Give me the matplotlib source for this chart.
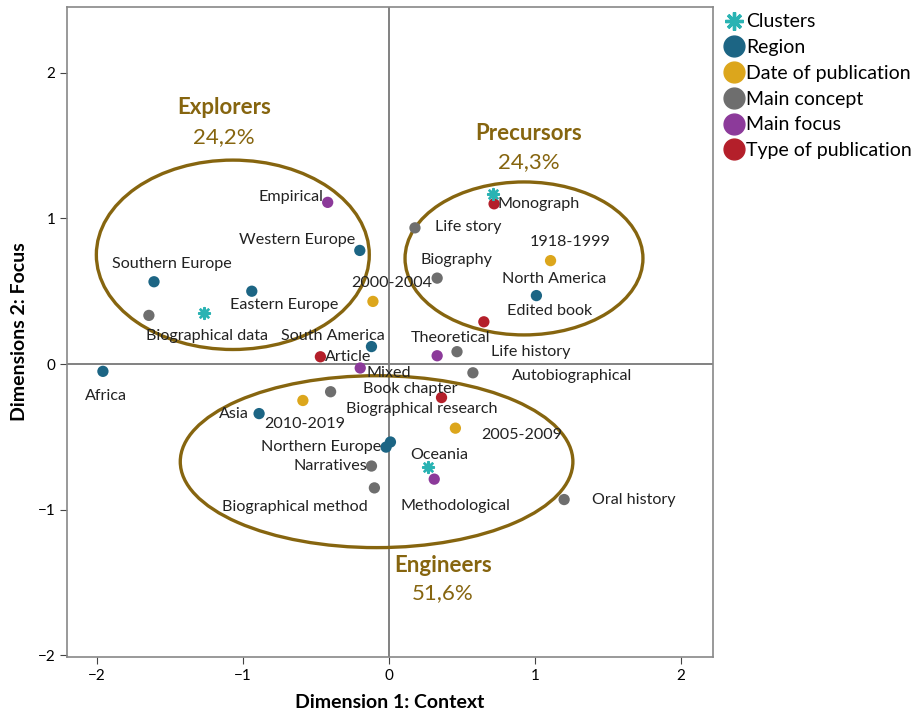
import matplotlib
matplotlib.use("Agg")
import matplotlib.pyplot as plt
from matplotlib.patches import Ellipse
from matplotlib.lines import Line2D

plt.rcParams['font.family'] = ['Lato', 'DejaVu Sans']

# --- data ---
region_names = ["Southern Europe", "Eastern Europe", "Western Europe", "South America",
                "Africa", "Asia", "Northern Europe", "Oceania", "North America"]
region_x = [-1.61, -0.94, -0.20, -0.12, -1.96, -0.89, -0.02, 0.01, 1.01]
region_y = [0.565, 0.50, 0.78, 0.12, -0.05, -0.34, -0.57, -0.535, 0.47]

date_names = ["2000-2004", "1918-1999", "2010-2019", "2005-2009"]
date_x = [-0.11, 1.107, -0.59, 0.455]
date_y = [0.43, 0.71, -0.25, -0.44]

concept_names = ["Biographical data", "Life story", "Biography", "Life history",
                 "Autobiographical", "Biographical research", "Narratives",
                 "Biographical method", "Oral history"]
concept_x = [-1.645, 0.178, 0.33, 0.466, 0.575, -0.40, -0.12, -0.10, 1.20]
concept_y = [0.334, 0.935, 0.59, 0.085, -0.06, -0.19, -0.70, -0.85, -0.93]

focus_names = ["Empirical", "Theoretical", "Mixed", "Methodological"]
focus_x = [-0.42, 0.33, -0.197, 0.31]
focus_y = [1.11, 0.057, -0.027, -0.79]

type_names = ["Article", "Monograph", "Edited book", "Book chapter"]
type_x = [-0.47, 0.72, 0.65, 0.36]
type_y = [0.05, 1.10, 0.29, -0.23]

cluster_names = ["Explorers", "Precursors", "Engineers"]
cluster_pct = ["24,2%", "24,3%", "51,6%"]
cluster_x = [-1.27, 0.71, 0.27]
cluster_y = [0.35, 1.17, -0.71]

# label offsets in pixels (dx, dy, ha)
label_pos = {
    "Empirical": (-4, 5, "right"), "Western Europe": (-5, 10, "right"),
    "Southern Europe": (18, 18, "center"), "Eastern Europe": (32, -14, "center"),
    "Biographical data": (58, -21, "center"), "2000-2004": (19, 18, "center"),
    "South America": (-39, 11, "center"), "Article": (5, 0, "left"),
    "Africa": (3, -25, "center"), "Mixed": (6, -5, "left"),
    "Book chapter": (-31, 9, "center"), "Biographical research": (91, -17, "center"),
    "Asia": (-10, 0, "right"), "2010-2019": (2, -24, "center"),
    "2005-2009": (26, -7, "left"), "Northern Europe": (-5, 0, "right"),
    "Oceania": (49, -13, "center"), "Narratives": (-4, 0, "right"),
    "Biographical method": (-80, -19, "center"), "Methodological": (21, -27, "center"),
    "Oral history": (28, 0, "left"), "Monograph": (3, 0, "left"),
    "Life story": (20, 1, "left"), "Biography": (19, 18, "center"),
    "1918-1999": (20, 19, "center"), "North America": (18, 17, "center"),
    "Edited book": (66, 11, "center"), "Theoretical": (13, 18, "center"),
    "Life history": (34, 0, "left"), "Autobiographical": (39, -3, "left"),
}

c_region = "#1c6584"
c_date = "#dca61c"
c_concept = "#6e6e6e"
c_focus = "#8c3a9a"
c_type = "#b41f2a"
c_cluster = "#2ab3b3"
c_gold = "#86650f"

fig = plt.figure(figsize=(9.2, 7.14), dpi=100)
ax = fig.add_axes([0.073, 0.080, 0.702, 0.910])
ax.set_xlim(-2.205, 2.22)
ax.set_ylim(-2.01, 2.45)

ax.axhline(0, color="#777777", lw=1.3, zorder=1)
ax.axvline(0, color="#777777", lw=1.3, zorder=1)

# cluster ellipses
ell = [(-1.07, 0.75, 1.87, 1.30), (0.925, 0.725, 1.63, 1.05), (-0.085, -0.67, 2.69, 1.18)]
for cx, cy, w, h in ell:
    ax.add_patch(Ellipse((cx, cy), w, h, fill=False, ec=c_gold, lw=2.4, zorder=2))

groups = [
    (region_names, region_x, region_y, c_region),
    (date_names, date_x, date_y, c_date),
    (concept_names, concept_x, concept_y, c_concept),
    (focus_names, focus_x, focus_y, c_focus),
    (type_names, type_x, type_y, c_type),
]
for names, xs, ys, col in groups:
    ax.scatter(xs, ys, s=66, color=col, edgecolors="none", zorder=4)
    for n, x, y in zip(names, xs, ys):
        dx, dy, ha = label_pos[n]
        ax.annotate(n, (x, y), xytext=(dx, dy), textcoords="offset pixels",
                    ha=ha, va="center", fontsize=11.6, color="#222222", zorder=5)

ax.scatter(cluster_x, cluster_y, s=60, marker=(8, 2, 0), color=c_cluster,
           linewidths=1.8, zorder=4)

# cluster titles
title_pos = [(-1.13, 1.76, 1.56), (0.96, 1.585, 1.385), (0.37, -1.38, -1.57)]
for (tx, ty1, ty2), n, p in zip(title_pos, cluster_names, cluster_pct):
    ax.text(tx, ty1, n, ha="center", va="center", fontsize=16, fontweight="bold",
            color=c_gold)
    ax.text(tx, ty2, p, ha="center", va="center", fontsize=16, color=c_gold)

ax.set_xticks([-2, -1, 0, 1, 2])
ax.set_yticks([-2, -1, 0, 1, 2])
ax.tick_params(labelsize=11, color="#444444", length=5)
for s in ax.spines.values():
    s.set_color("#888888")
    s.set_linewidth(1.2)

ax.set_xlabel("Dimension 1: Context", fontsize=14, fontweight="bold")
ax.set_ylabel("Dimensions 2: Focus", fontsize=14, fontweight="bold")
ax.xaxis.set_label_coords(0.5, -0.057)
ax.yaxis.set_label_coords(-0.060, 0.5)

handles = [
    Line2D([], [], ls="", marker=(8, 2, 0), ms=13, mew=2.4, color=c_cluster),
    Line2D([], [], ls="", marker="o", ms=15, color=c_region),
    Line2D([], [], ls="", marker="o", ms=15, color=c_date),
    Line2D([], [], ls="", marker="o", ms=15, color=c_concept),
    Line2D([], [], ls="", marker="o", ms=15, color=c_focus),
    Line2D([], [], ls="", marker="o", ms=15, color=c_type),
]
labels = ["Clusters", "Region", "Date of publication", "Main concept", "Main focus",
          "Type of publication"]
fig.legend(handles, labels, loc="upper left", bbox_to_anchor=(0.779, 0.992),
           frameon=False, fontsize=14, handlelength=1.0, handletextpad=0.1,
           labelspacing=0.45, borderaxespad=0)

fig.savefig("out.png", dpi=100)
